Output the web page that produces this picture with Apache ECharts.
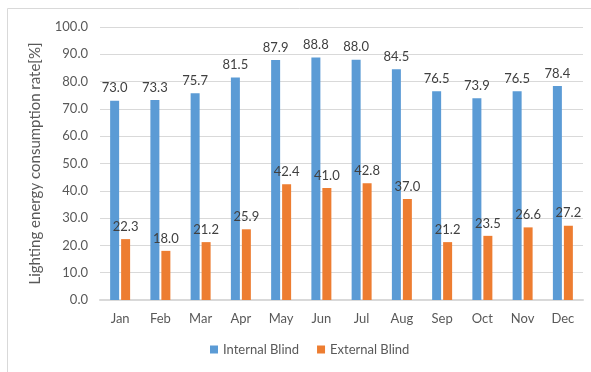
<!DOCTYPE html>
<html>
<head>
<meta charset="utf-8">
<script src="https://cdn.jsdelivr.net/npm/echarts@6/dist/echarts.min.js"></script>
<style>
html, body { margin: 0; padding: 0; background: #fff; }
#chart { width: 591px; height: 372px; }
</style>
</head>
<body>
<div id="chart"></div>
<script>
var months = ['Jan', 'Feb', 'Mar', 'Apr', 'May', 'Jun', 'Jul', 'Aug', 'Sep', 'Oct', 'Nov', 'Dec'];
var internalBlind = [73.0, 73.3, 75.7, 81.5, 87.9, 88.8, 88.0, 84.5, 76.5, 73.9, 76.5, 78.4];
var externalBlind = [22.3, 18.0, 21.2, 25.9, 42.4, 41.0, 42.8, 37.0, 21.2, 23.5, 26.6, 27.2];

var font = 'Lato, "Open Sans", sans-serif';
var myChart = echarts.init(document.getElementById('chart'));

// 数据标签样式
var valueLabel = {
    show: true,
    position: 'top',
    distance: 6,
    color: '#404040',
    fontSize: 13,
    fontFamily: font,
    formatter: function (p) { return p.value.toFixed(1); }
};

var option = {
    animation: false,
    textStyle: { fontFamily: font },
    graphic: [{
        type: 'rect',
        shape: { x: 7.5, y: 8.5, width: 600, height: 400 },
        style: { fill: 'none', stroke: '#d9d9d9', lineWidth: 1 },
        z: -1
    }],
    grid: { left: 100, right: 8, top: 27, bottom: 72 },
    legend: {
        bottom: 11,
        left: 205,
        itemWidth: 8,
        itemHeight: 8,
        itemGap: 18,
        icon: 'rect',
        textStyle: { color: '#595959', fontSize: 13, fontFamily: font },
        data: ['Internal Blind', 'External Blind']
    },
    xAxis: {
        type: 'category',
        data: months,
        axisLine: { lineStyle: { color: '#d9d9d9', width: 2 } },
        axisTick: { show: false },
        axisLabel: { color: '#595959', fontSize: 13, margin: 12, fontFamily: font }
    },
    yAxis: {
        type: 'value',
        min: 0,
        max: 100,
        interval: 10,
        name: 'Lighting energy consumption rate[%]',
        nameLocation: 'middle',
        nameGap: 57,
        nameTextStyle: { color: '#595959', fontSize: 15, fontFamily: font },
        axisLine: { show: false },
        axisTick: { show: false },
        axisLabel: {
            color: '#595959', fontSize: 13, margin: 12, fontFamily: font,
            formatter: function (v) { return v.toFixed(1); }
        },
        splitLine: { lineStyle: { color: '#d9d9d9', width: 1 } }
    },
    series: [
        {
            name: 'Internal Blind',
            type: 'bar',
            data: internalBlind,
            barWidth: 9,
            barGap: '22%',
            itemStyle: { color: '#5b9bd5' },
            label: valueLabel
        },
        {
            name: 'External Blind',
            type: 'bar',
            data: externalBlind,
            barWidth: 9,
            itemStyle: { color: '#ed7d31' },
            label: valueLabel
        }
    ]
};

myChart.setOption(option);
</script>
</body>
</html>
